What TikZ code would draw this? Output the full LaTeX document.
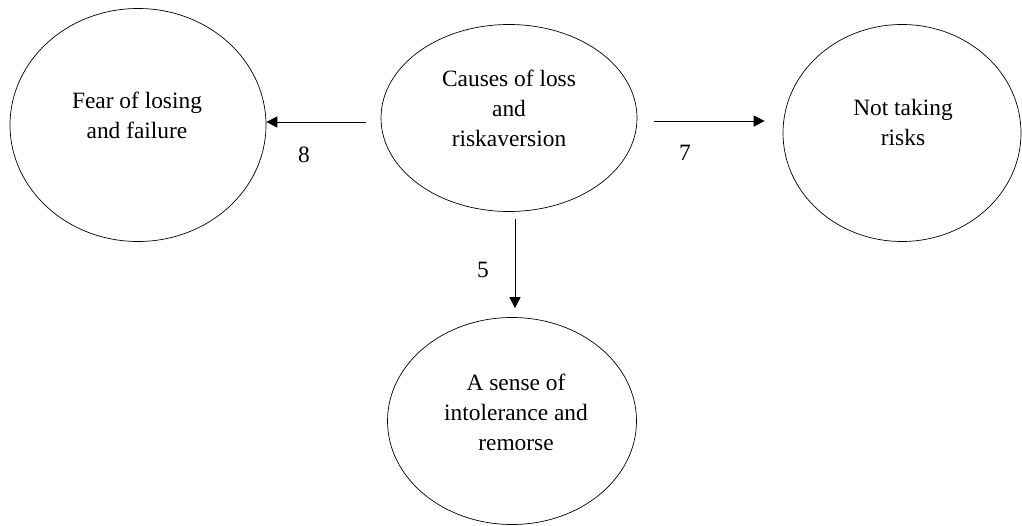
\documentclass[tikz,border=0pt]{standalone}
\usepackage{fontspec}
\setmainfont{Liberation Serif}
\usetikzlibrary{arrows.meta,shapes.geometric}
\begin{document}
\begin{tikzpicture}[x=1pt,y=-1pt,
  bub/.style={draw,ellipse,inner sep=0pt,line width=0.7pt},
  txt/.style={align=center,font=\fontsize{23.4}{30}\selectfont,inner sep=0pt},
  arr/.style={line width=0.9pt,-{Triangle[length=11pt,width=11pt]}},
  num/.style={font=\fontsize{23.4}{30}\selectfont,inner sep=0pt}]
\useasboundingbox (0,0) rectangle (1022,526);
\node[bub,minimum width=256pt,minimum height=233pt] (l) at (138,125) {};
\node[bub,minimum width=256pt,minimum height=187pt] (c) at (509,118) {};
\node[bub,minimum width=238pt,minimum height=217pt] (r) at (902,133) {};
\node[bub,minimum width=249pt,minimum height=207pt] (b) at (512,421) {};
\node[txt] (lt) at (137,115) {Fear of losing\\and failure};
\node[txt] (ct) at (509,108) {Causes of loss\\and\\riskaversion};
\node[txt] (rt) at (903,122) {Not taking\\risks};
\node[txt] (bt) at (516,412) {A sense of\\intolerance and\\remorse};
\draw[arr,shorten <=15pt] ([yshift=-4pt]c.west) -- ([yshift=3pt]l.east);
\draw[arr,shorten <=17pt,shorten >=18pt] ([yshift=-3pt]c.east) -- ([yshift=12pt]r.west);
\draw[arr,shorten <=7pt,shorten >=9pt] ([xshift=6pt]c.south) -- ([xshift=3pt]b.north);
\node[num] (n8) at (304,155) {8};
\node[num] (n7) at (685,153) {7};
\node[num] (n5) at (483,270) {5};
\end{tikzpicture}
\end{document}
